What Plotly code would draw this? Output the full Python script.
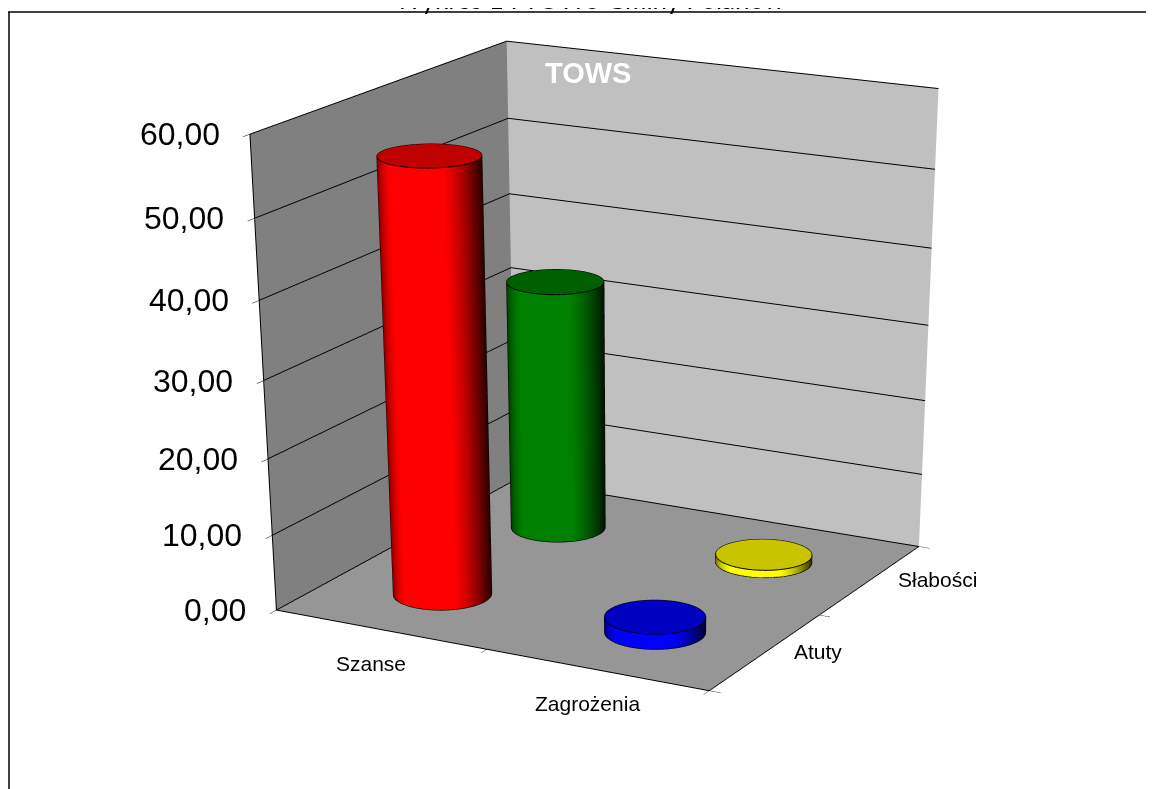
import numpy as np
import plotly.graph_objects as go

# Chart data
categories = ["Szanse", "Zagrożenia"]
series_names = ["Atuty", "Słabości"]
atuty_values = [56.0, 2.0]
slabosci_values = [33.5, 1.0]
z_tick_values = [0, 10, 20, 30, 40, 50, 60]
z_tick_labels = ["0,00", "10,00", "20,00", "30,00", "40,00", "50,00", "60,00"]

# Colours: (side, top)
atuty_colors = [("#FF0000", "#C00000"), ("#0000FF", "#0000C0")]
slabosci_colors = [("#008000", "#006000"), ("#FFFF00", "#C8C400")]

RADIUS = 0.205
W, H = 1146, 3000  # taller than the window, gives the long lens of the original
PAGE_MARGIN = 8

# Camera
eye = np.array([3.492, -6.429, 1.99])
center = np.array([0.464, -0.726, -2.19])
to_eye = np.arctan2(eye[1] - center[1], eye[0] - center[0])


def darken(hex_color, f):
    r, g, b = int(hex_color[1:3], 16), int(hex_color[3:5], 16), int(hex_color[5:7], 16)
    return f"rgb({int(r * f)},{int(g * f)},{int(b * f)})"


def add_cylinder(fig, cx, cy, value, side, top):
    theta = np.linspace(0, 2 * np.pi, 121)
    x = cx + RADIUS * np.outer(np.cos(theta), [1, 1])
    y = cy + RADIUS * np.outer(np.sin(theta), [1, 1])
    z = np.outer(np.ones_like(theta), [0, value])

    # brightest a little left of the middle, dark on the right edge
    shade = np.outer(np.clip(np.cos(theta - to_eye + 0.25), 0, 1), [1, 1])
    scale = [[0, darken(side, 0.2)], [0.3, darken(side, 0.4)], [0.55, darken(side, 0.65)],
             [0.85, side], [1, side]]
    flat = dict(ambient=1, diffuse=0, specular=0, fresnel=0)
    fig.add_trace(go.Surface(x=x, y=y, z=z, surfacecolor=shade, cmin=0, cmax=1, colorscale=scale,
                             showscale=False, lighting=flat))

    # top cap
    r = np.array([0, RADIUS])
    xc = cx + np.outer(np.cos(theta), r)
    yc = cy + np.outer(np.sin(theta), r)
    fig.add_trace(go.Surface(x=xc, y=yc, z=np.full_like(xc, value), surfacecolor=np.zeros_like(xc),
                             colorscale=[[0, top], [1, top]], showscale=False, lighting=flat))

    # outline: rims and the two silhouette edges
    edge = dict(color="black", width=2)
    for level in (0, value):
        fig.add_trace(go.Scatter3d(x=cx + RADIUS * np.cos(theta), y=cy + RADIUS * np.sin(theta),
                                   z=np.full_like(theta, level), mode="lines", line=edge, showlegend=False))
    for a in (to_eye + np.pi / 2, to_eye - np.pi / 2):
        fig.add_trace(go.Scatter3d(x=[cx + RADIUS * np.cos(a)] * 2, y=[cy + RADIUS * np.sin(a)] * 2,
                                   z=[0, value], mode="lines", line=edge, showlegend=False))


fig = go.Figure()
for i in range(2):
    add_cylinder(fig, i + 0.5, 1.5, slabosci_values[i], *slabosci_colors[i])
    add_cylinder(fig, i + 0.5, 0.5, atuty_values[i], *atuty_colors[i])

# Category and value labels
annots = []
for i, name in enumerate(categories):
    annots.append(dict(x=i + 0.5, y=0, z=0, text=name, showarrow=False, yshift=-34, xshift=-9,
                       font=dict(family="Liberation Sans", size=21, color="black")))
for i, name in enumerate(series_names):
    annots.append(dict(x=2, y=i + 0.5, z=0, text=name, showarrow=False, xanchor="left", xshift=26,
                       font=dict(family="Liberation Sans", size=21, color="black")))
for v, label in zip(z_tick_values, z_tick_labels):
    annots.append(dict(x=0, y=0, z=v, text=label, showarrow=False, xanchor="right", xshift=-28,
                       font=dict(family="Liberation Sans", size=32, color="black")))

axis_common = dict(title=dict(text=""), showticklabels=False, showspikes=False, zeroline=False,
                   showbackground=True, ticks="outside", ticklen=10, tickcolor="black",
                   showline=True, linecolor="black", linewidth=2, showgrid=False)


def px(x0):
    return (x0 - PAGE_MARGIN) / W


def py(y0):
    return 1 - (y0 - PAGE_MARGIN) / H


fig.update_layout(
    width=W, height=H,
    margin=dict(l=0, r=0, t=0, b=0),
    paper_bgcolor="white",
    showlegend=False,
    scene=dict(
        domain=dict(x=[0.1, 1], y=[0, 1]),
        xaxis=dict(range=[0, 2], tickvals=[0, 1, 2], backgroundcolor="#808080", **axis_common),
        yaxis=dict(range=[0, 2], tickvals=[0, 1, 2], backgroundcolor="#C0C0C0", **axis_common),
        zaxis=dict(range=[0, 60], tickvals=z_tick_values, backgroundcolor="#969696",
                   **{**axis_common, "showgrid": True, "gridcolor": "black", "gridwidth": 2}),
        aspectmode="manual",
        aspectratio=dict(x=0.98, y=0.973, z=0.918),
        camera=dict(eye=dict(x=eye[0], y=eye[1], z=eye[2]),
                    center=dict(x=center[0], y=center[1], z=center[2]),
                    up=dict(x=0, y=0, z=1),
                    projection=dict(type="perspective")),
        annotations=annots,
    ),
    shapes=[
        # page frame, open on the right
        dict(type="line", xref="paper", yref="paper", x0=px(9), x1=px(9), y0=py(12), y1=py(789),
             line=dict(color="black", width=1.5)),
        dict(type="line", xref="paper", yref="paper", x0=px(8), x1=px(1154), y0=py(12), y1=py(12),
             line=dict(color="black", width=1.5)),
    ],
    annotations=[
        dict(text="Wykres 1 I TOWS Gminy Polanów", x=px(589), y=1, xref="paper", yref="paper", yanchor="middle",
             yshift=9, showarrow=False, font=dict(family="Lato", size=26, color="black")),
        dict(text="<b>TOWS</b>", x=px(588), y=py(73), xref="paper", yref="paper", yanchor="middle", showarrow=False,
             font=dict(family="Liberation Sans", size=29, color="white")),
    ],
)

fig.write_html("out.html")
